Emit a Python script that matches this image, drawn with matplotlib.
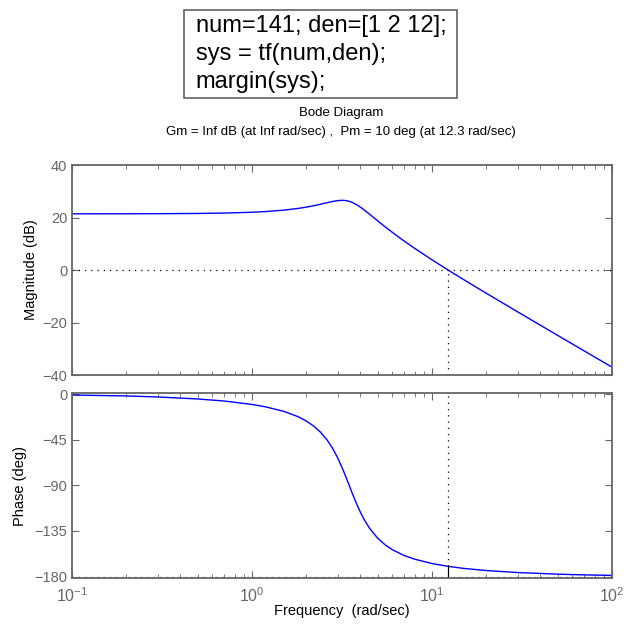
import numpy as np
import matplotlib.pyplot as plt
from matplotlib.patches import Rectangle
from matplotlib.ticker import LogLocator, NullFormatter

plt.rcParams['font.family'] = ['Liberation Sans', 'DejaVu Sans']
plt.rcParams['mathtext.fontset'] = 'custom'
plt.rcParams['mathtext.rm'] = 'Liberation Sans'
plt.rcParams['mathtext.it'] = 'Liberation Sans'

# values (rad/sec, dB, deg)
freq = [0.1, 0.2, 0.3, 0.5, 0.7, 1.0, 1.2, 1.5, 1.8, 2.0, 2.2, 2.4, 2.6, 2.8,
        3.0, 3.1, 3.2, 3.3, 3.4, 3.5, 3.6, 3.8, 4.0, 4.2, 4.5, 5.0, 5.5, 6.0,
        7.0, 8.0, 10.0, 12.3, 15.0, 20.0, 30.0, 50.0, 70.0, 100.0]
mag_db = [21.41, 21.43, 21.46, 21.55, 21.70, 22.01, 22.29, 22.81, 23.46, 23.95,
          24.49, 25.06, 25.62, 26.11, 26.45, 26.53, 26.54, 26.47, 26.32, 26.08,
          25.76, 24.94, 23.95, 22.88, 21.25, 18.69, 16.41, 14.41, 11.04, 8.27,
          3.88, -0.03, -3.67, -8.84, -16.00, -24.94, -30.80, -37.01]
phase_deg = [-1.0, -1.9, -2.9, -4.9, -6.9, -10.3, -12.8, -17.1, -22.3, -26.6,
             -31.6, -37.6, -44.8, -53.4, -63.4, -69.1, -74.6, -80.5, -86.3, -92.0,
             -97.6, -107.8, -116.6, -123.9, -132.5, -142.4, -148.9, -153.4,
             -159.3, -162.9, -167.2, -170.0, -172.0, -174.1, -176.1, -177.7,
             -178.4, -178.9]
wc = 12.3
pm_phase = -170.0

code = "num=141; den=[1 2 12];\nsys = tf(num,den);\nmargin(sys);"
title1 = "Bode Diagram"
title2 = "Gm = Inf dB (at Inf rad/sec) ,  Pm = 10 deg (at 12.3 rad/sec)"

gray = '#666666'
dots = (0, (1, 4))
fig = plt.figure(figsize=(6.24, 6.27), dpi=100)
ax1 = fig.add_axes([0.1154, 0.4019, 0.8654, 0.3349])
ax2 = fig.add_axes([0.1154, 0.0781, 0.8654, 0.2951])

for ax in (ax1, ax2):
    ax.set_xscale('log')
    ax.set_xlim(0.1, 100)
    ax.xaxis.set_major_locator(LogLocator(base=10, numticks=10))
    ax.xaxis.set_minor_locator(LogLocator(base=10, subs=np.arange(2, 10), numticks=20))
    ax.xaxis.set_minor_formatter(NullFormatter())
    ax.tick_params(which='both', direction='in', top=True, right=True,
                   color=gray, labelcolor=gray, labelsize=10.5)
    ax.tick_params(axis='x', labelsize=11.5, pad=6)
    ax.tick_params(which='major', length=5, width=0.8)
    ax.tick_params(which='minor', length=3, width=0.6)
    for s in ax.spines.values():
        s.set_color(gray)
        s.set_linewidth(1.3)

ax1.plot(freq, mag_db, color='#0000ff', lw=1)
ax1.axhline(0, color='k', ls=dots, lw=0.9)
ax1.plot([wc, wc], [-40, 0], color='k', ls=dots, lw=0.9)
ax1.set_ylim(-40, 40)
ax1.set_yticks([-40, -20, 0, 20, 40])
ax1.set_yticklabels(['\u221240', '\u221220', '0', '20', '40'])
ax1.tick_params(labelbottom=False)
ax1.set_ylabel('Magnitude (dB)', fontsize=10.5, labelpad=3)

ax2.plot(freq, phase_deg, color='#0000ff', lw=1)
ax2.axhline(-180, color='k', ls=dots, lw=0.9)
ax2.plot([wc, wc], [pm_phase, 1], color='k', ls=dots, lw=0.9)
ax2.plot([wc, wc], [-180, pm_phase], color='k', lw=0.9)
ax2.set_ylim(-181.5, 1)
ax2.set_yticks([-180, -135, -90, -45, 0])
ax2.set_yticklabels(['\u2212180', '\u2212135', '\u221290', '\u221245', '0'])
ax2.set_ylabel('Phase (deg)', fontsize=10.5, labelpad=5)
ax2.set_xlabel('Frequency  (rad/sec)', fontsize=10.5, labelpad=-1)

fig.text(0.546, 0.819, title1, ha='center', va='center', fontsize=9.5)
fig.text(0.546, 0.789, title2, ha='center', va='center', fontsize=9.5)
fig.patches.append(Rectangle((0.2949, 0.8437), 0.4375, 0.1404, transform=fig.transFigure,
                             fill=False, ec='#555555', lw=1.1))
fig.text(0.314, 0.9139, code, ha='left', va='center', fontsize=17, linespacing=1.36)

plt.savefig('out.png', dpi=100)
